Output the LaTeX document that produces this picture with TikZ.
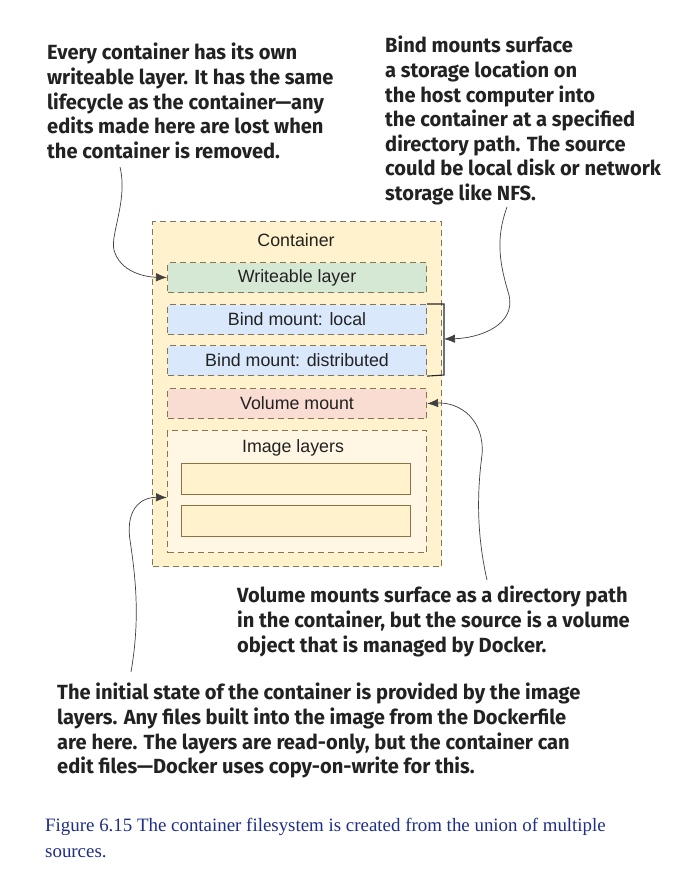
\documentclass[tikz,border=0pt]{standalone}
\usepackage{fontspec}
\setmainfont{Liberation Serif}
\newfontfamily\callfont{Fira Sans}[FakeStretch=0.98]
\newfontfamily\boxfont{Liberation Sans}
\usetikzlibrary{arrows.meta}
\definecolor{contfill}{HTML}{FFF2CC}
\definecolor{dashcol}{HTML}{857456}
\definecolor{wlfill}{HTML}{D5E8D4}
\definecolor{bmfill}{HTML}{DAE8FC}
\definecolor{vmfill}{HTML}{F9DCD2}
\definecolor{ilfill}{HTML}{FFF7E3}
\definecolor{laydraw}{HTML}{8B7442}
\definecolor{capcol}{HTML}{1F2E86}
\definecolor{txtcol}{HTML}{222222}
\tikzset{
  dbox/.style={draw=dashcol, line width=1.1pt, dash pattern=on 6pt off 4pt},
  lblfont/.style={font=\boxfont\fontsize{17.8}{20}\selectfont, text=txtcol},
  layerbox/.style={dbox, minimum width=259pt, minimum height=30pt, inner sep=0pt, lblfont},
  solidlayer/.style={draw=laydraw, fill=contfill, line width=1.2pt},
  callout/.style={anchor=north west, align=left, inner sep=0pt, text=txtcol,
     font=\callfont\bfseries\fontsize{20.5}{24.6}\selectfont},
  conn/.style={draw=black!75, line width=0.7pt, -{Latex[length=11pt,width=8.5pt]}},
}
\begin{document}
\begin{tikzpicture}[x=1pt,y=-1pt]
\useasboundingbox[fill=white] (0,0) rectangle (699,871);
% container
\node[dbox, fill=contfill, minimum width=289pt, minimum height=345pt, anchor=north west, inner sep=0pt] (cont) at (152,221) {};
\node[lblfont] (contlbl) at (296,240) {Container};
\node[layerbox, fill=wlfill, anchor=north west] (wl) at (167,262) {Writeable layer};
\node[layerbox, fill=bmfill, anchor=north west] (bml) at (167,304) {Bind mount: local};
\node[layerbox, fill=bmfill, anchor=north west] (bmd) at (167,345) {Bind mount: distributed};
\node[layerbox, fill=vmfill, anchor=north west] (vm) at (167,388) {Volume mount};
\node[dbox, fill=ilfill, minimum width=259pt, minimum height=122pt, anchor=north west, inner sep=0pt] (il) at (167,430) {};
\node[lblfont] (illbl) at (293,448) {Image layers};
\node[solidlayer, minimum width=229pt, minimum height=31pt, anchor=north west, inner sep=0pt] (l1) at (181,463) {};
\node[solidlayer, minimum width=229pt, minimum height=31pt, anchor=north west, inner sep=0pt] (l2) at (181,505) {};
% bracket
\coordinate (bt) at (444,304);
\coordinate (bb) at (444,375);
\draw[black!85, line width=1.1pt] (bml.north east) -- (bt) -- (bb) -- (bmd.south east);
\coordinate (bmid) at (444,339);
% callouts
\node[callout] (t1) at (47,43) {Every container has its own\\writeable layer. It has the same\\lifecycle as the container—any\\edits made here are lost when\\the container is removed.};
\node[callout] (t2) at (385,36) {Bind mounts surface\\a storage location on\\the host computer into\\the container at a specified\\directory path. The source\\could be local disk or network\\storage like NFS.};
\node[callout] (t3) at (237,586) {Volume mounts surface as a directory path\\in the container, but the source is a volume\\object that is managed by Docker.};
\node[callout] (t4) at (57,683) {The initial state of the container is provided by the image\\layers. Any files built into the image from the Dockerfile\\are here. The layers are read-only, but the container can\\edit files—Docker uses copy-on-write for this.};
% caption
\node[anchor=north west, align=left, inner sep=0pt, text=capcol, font=\fontsize{18.9}{26}\selectfont] (cap) at (45,818) {Figure 6.15 The container filesystem is created from the union of multiple\\sources.};
% connectors
\coordinate (s1) at (120,167);
\coordinate (s2) at (507,207);
\coordinate (s3) at (487,580);
\coordinate (s4) at (131,672);
\draw[conn] (s1) .. controls (128,200) and (110,235) .. (114,250) .. controls (120,272) and (145,277) .. (wl.west);
\draw[conn] (s2) .. controls (495,240) and (500,265) .. (509,295) .. controls (516,325) and (480,338) .. (bmid);
\draw[conn] (s3) .. controls (478,540) and (476,500) .. (482,455) .. controls (485,420) and (460,402) .. (vm.east);
\draw[conn] (s4) .. controls (140,620) and (136,580) .. (130,540) .. controls (125,505) and (145,497) .. ([yshift=-6pt]il.west);
\end{tikzpicture}
\end{document}
